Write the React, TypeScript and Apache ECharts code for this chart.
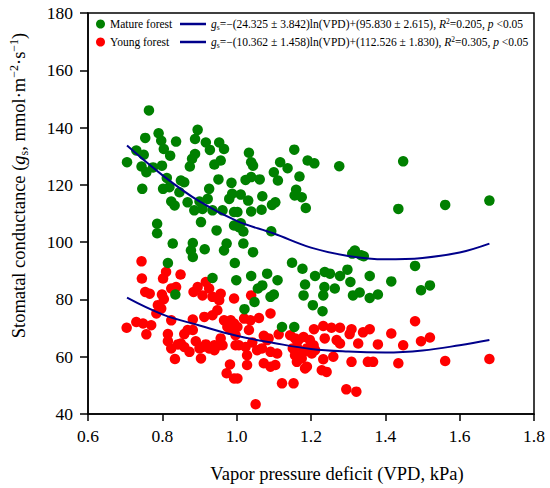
import React, { useEffect, useRef } from "react";
import * as echarts from "echarts";

const matureVPD = [
  0.764, 0.754, 0.790, 0.797, 0.837, 0.895, 0.888, 0.917, 0.953, 0.966, 0.928, 0.804, 0.821, 0.730, 0.750,
  0.705, 0.744, 0.757, 0.775, 0.799, 0.888, 0.880, 0.874, 0.940, 0.957, 0.746, 0.812, 0.802, 0.819, 0.850,
  0.859, 0.846, 0.951, 0.986, 0.926, 0.980, 0.988, 0.868, 0.824, 0.833, 0.886, 0.908, 0.922, 0.935, 0.962,
  0.900, 0.993, 0.904, 0.946, 0.993, 0.786, 0.786, 0.828, 0.882, 0.877, 0.914, 0.973, 0.966, 1.155, 1.033,
  1.039, 1.044, 1.117, 1.137, 1.191, 1.209, 1.276, 1.100, 1.111, 1.169, 1.024, 1.039, 1.062, 1.011, 1.031,
  1.069, 1.095, 1.104, 1.160, 1.156, 1.175, 1.186, 1.039, 1.067, 1.002, 1.011, 1.018, 1.093, 1.018, 1.044,
  1.318, 1.335, 1.448, 1.435, 1.561, 1.680, 1.311, 1.480, 1.149, 1.177, 1.082, 1.039, 1.110, 1.069, 1.057,
  1.211, 1.237, 1.251, 1.278, 1.298, 1.306, 1.358, 1.184, 1.236, 1.264, 1.180, 1.233, 1.100, 1.091, 1.313,
  1.331, 1.358, 1.380, 1.205, 1.231, 1.048, 1.021, 1.122, 1.155, 1.416, 1.496, 1.520, 0.815, 0.995, 0.935,
  0.999, 0.835, 0.882, 1.006, 1.342,
];
const matureGs = [
  146.0, 136.4, 138.0, 135.4, 135.1, 139.2, 136.0, 134.8, 134.8, 132.5, 132.2, 132.5, 130.2, 132.0, 130.5,
  127.9, 126.4, 124.4, 126.1, 126.7, 130.8, 129.1, 126.4, 127.1, 128.5, 118.6, 122.4, 118.6, 119.2, 121.5,
  120.9, 117.4, 121.9, 120.7, 118.6, 115.1, 116.9, 113.9, 114.2, 112.8, 111.1, 111.6, 115.1, 111.1, 111.1,
  114.2, 110.5, 107.0, 104.1, 105.8, 106.4, 103.1, 99.5, 99.7, 97.1, 97.5, 99.5, 97.1, 132.3, 131.2,
  127.9, 126.7, 127.9, 125.8, 128.5, 127.5, 126.5, 124.4, 121.5, 122.9, 121.7, 122.7, 121.9, 116.6, 114.5,
  116.0, 113.0, 113.9, 118.3, 116.3, 115.7, 111.9, 110.7, 111.3, 110.5, 106.6, 103.7, 103.8, 99.5, 96.5,
  97.1, 95.4, 128.2, 111.6, 113.0, 114.5, 96.0, 91.7, 92.8, 90.7, 89.0, 88.2, 86.7, 84.9, 83.8,
  88.2, 89.6, 89.0, 88.2, 90.4, 86.1, 88.2, 85.2, 84.3, 83.8, 81.4, 81.4, 81.7, 80.9, 81.4,
  82.4, 80.5, 81.7, 78.0, 75.9, 79.1, 76.6, 70.4, 70.4, 86.3, 83.2, 84.9, 92.7, 92.7, 87.5,
  86.7, 81.7, 94.8, 105.2, 95.1,
];

const youngVPD = [
  0.744, 0.745, 0.754, 0.766, 0.802, 0.810, 0.849, 0.799, 0.804, 0.824, 0.837, 0.788, 0.797, 0.784, 0.704,
  0.730, 0.748, 0.770, 0.757, 0.824, 0.815, 0.815, 0.824, 0.834, 0.882, 0.859, 0.868, 0.842, 0.859, 0.873,
  0.890, 0.900, 0.904, 0.917, 0.926, 0.940, 0.884, 0.895, 0.908, 0.917, 0.926, 0.935, 0.957, 0.953, 0.948,
  0.913, 0.935, 0.966, 0.984, 0.975, 0.957, 0.953, 0.993, 0.993, 0.997, 0.997, 0.982, 0.973, 0.993, 1.039,
  1.091, 1.020, 1.037, 1.060, 1.002, 1.033, 1.073, 1.086, 1.042, 1.024, 1.055, 1.068, 1.091, 1.109, 1.113,
  1.144, 1.157, 1.180, 1.197, 1.208, 1.233, 1.255, 1.278, 1.237, 1.269, 1.278, 1.309, 1.304, 1.340, 1.358,
  1.380, 1.327, 1.151, 1.162, 1.180, 1.171, 1.162, 1.184, 1.202, 1.211, 1.233, 1.260, 1.229, 1.242, 1.309,
  1.353, 1.367, 1.073, 1.091, 1.104, 1.028, 1.002, 1.122, 1.153, 1.295, 1.322, 1.051, 1.480, 1.416, 1.520,
  1.496, 1.448, 1.435, 1.561, 1.680, 1.207, 1.189, 1.157, 1.175, 0.882, 0.850, 0.908, 0.940, 0.962, 0.984,
  1.006, 1.028, 1.082, 1.166, 1.189,
];
const youngGs = [
  93.3, 87.3, 82.6, 82.0, 87.3, 89.6, 88.7, 81.7, 80.1, 83.8, 84.3, 78.0, 76.8, 75.1, 70.1,
  72.1, 71.6, 71.0, 67.8, 72.7, 67.9, 65.4, 62.9, 59.2, 73.0, 67.9, 69.3, 64.3, 63.4, 61.7,
  65.4, 62.9, 59.4, 64.3, 62.9, 64.0, 82.6, 84.3, 81.4, 86.1, 83.8, 80.9, 82.0, 79.7, 76.2,
  73.9, 74.5, 72.7, 72.7, 70.4, 66.4, 64.0, 80.3, 71.6, 67.5, 64.0, 57.3, 54.2, 52.4, 81.4,
  75.1, 73.3, 72.7, 73.5, 70.4, 69.3, 67.3, 66.4, 65.0, 63.4, 62.3, 62.9, 61.7, 61.1, 67.8,
  67.5, 66.4, 66.9, 65.8, 69.6, 70.7, 70.1, 70.1, 66.4, 65.8, 64.6, 69.6, 67.9, 68.5, 69.6,
  64.3, 64.6, 62.9, 63.4, 61.7, 60.0, 58.2, 55.9, 61.1, 62.3, 59.1, 60.0, 55.3, 54.7, 58.2,
  58.2, 58.2, 57.7, 56.5, 57.1, 57.1, 52.4, 50.7, 50.7, 48.6, 47.8, 43.4, 72.4, 68.1, 66.7,
  65.4, 64.0, 57.7, 58.5, 59.2, 64.0, 62.9, 60.5, 59.4, 69.3, 64.6, 63.4, 62.3, 64.0, 69.3,
  64.0, 60.5, 65.8, 65.8, 56.5,
];

// fitted curves
const fitVPD = [0.705, 0.8, 0.9, 1.0, 1.1, 1.2, 1.3, 1.4, 1.5, 1.6, 1.68];
const matureFitGs = [133.7, 123.4, 114.2, 107.4, 103.0, 98.1, 95.2, 94.0, 94.5, 96.4, 99.5];
const youngFitGs = [80.6, 74.8, 70.9, 67.3, 64.8, 62.7, 61.8, 61.5, 62.2, 64.0, 65.8];

const xTicks = { min: 0.6, max: 1.8, interval: 0.2 };
const yTicks = { min: 40, max: 180, interval: 20 };

const matureFormula =
  "{i|g}{sub|s}{t|=−(24.325 ± 3.842)ln(VPD)+(95.830 ± 2.615), }{i|R}{sup|2}{t|=0.205, }{i|p}{t| <0.05}";
const youngFormula =
  "{i|g}{sub|s}{t|=−(10.362 ± 1.458)ln(VPD)+(112.526 ± 1.830), }{i|R}{sup|2}{t|=0.305, }{i|p}{t| <0.05}";

const FONT = "Liberation Serif";

const zip = (xs: number[], ys: number[]) => xs.map((x, i) => [x, ys[i]]);

export default function App() {
  const ref = useRef<HTMLDivElement>(null);
  useEffect(() => {
    if (!ref.current) return;
    const chart = echarts.init(ref.current, undefined, { renderer: "svg" });
    const legRich = {
      t: { fontSize: 11.5, fontFamily: FONT, color: "#000", lineHeight: 14 },
      i: { fontSize: 11.5, fontFamily: FONT, fontStyle: "italic", color: "#000", lineHeight: 14 },
      sub: { fontSize: 7.5, fontFamily: FONT, color: "#000", lineHeight: 14, verticalAlign: "bottom" },
      sup: { fontSize: 7.5, fontFamily: FONT, color: "#000", lineHeight: 14, verticalAlign: "top" },
    };
    const nameRich = {
      t: { fontSize: 18.5, fontFamily: FONT, color: "#000", lineHeight: 22 },
      i: { fontSize: 18.5, fontFamily: FONT, fontStyle: "italic", color: "#000", lineHeight: 22 },
      sub: { fontSize: 12, fontFamily: FONT, color: "#000", lineHeight: 22, verticalAlign: "bottom" },
      sup: { fontSize: 12, fontFamily: FONT, color: "#000", lineHeight: 22, verticalAlign: "top" },
    };
    chart.setOption({
      animation: false,
      backgroundColor: "#fff",
      textStyle: { fontFamily: FONT },
      grid: {
        left: 84,
        right: 16,
        top: 13,
        bottom: 74,
        show: true,
        borderColor: "#000",
        borderWidth: 1.5,
        backgroundColor: "transparent",
      },
      legend: [
        {
          data: ["Mature forest", "Young forest"],
          orient: "vertical",
          left: 96,
          top: 17,
          itemWidth: 9,
          itemHeight: 9,
          itemGap: 4,
          padding: 0,
          textStyle: { fontSize: 11.5, fontFamily: FONT, color: "#000", lineHeight: 14 },
        },
        {
          data: ["matureFit", "youngFit"],
          orient: "vertical",
          left: 180,
          top: 17,
          icon: "rect",
          itemWidth: 26,
          itemHeight: 2.5,
          itemGap: 4,
          padding: 0,
          formatter: (name: string) => (name === "matureFit" ? matureFormula : youngFormula),
          textStyle: { fontSize: 11.5, fontFamily: FONT, color: "#000", lineHeight: 14, rich: legRich },
        },
      ],
      xAxis: {
        type: "value",
        min: xTicks.min,
        max: xTicks.max,
        interval: xTicks.interval,
        name: "Vapor pressure deficit (VPD, kPa)",
        nameLocation: "middle",
        nameGap: 50,
        nameTextStyle: { fontSize: 18.5, fontFamily: FONT, color: "#000", padding: [0, 0, 0, 52] },
        axisLine: { show: true, onZero: false, lineStyle: { color: "#000", width: 1.5 } },
        axisTick: { show: true, inside: false, length: 7, lineStyle: { color: "#000", width: 1.5 } },
        axisLabel: {
          margin: 13,
          fontSize: 17.5,
          fontFamily: FONT,
          color: "#000",
          formatter: (v: number) => v.toFixed(1),
        },
        splitLine: { show: false },
      },
      yAxis: {
        type: "value",
        min: yTicks.min,
        max: yTicks.max,
        interval: yTicks.interval,
        name: "{t|Stomatal conductance (}{i|g}{sub|s}{t|, mmol·m}{sup|−2}{t|·s}{sup|−1}{t|)}",
        nameLocation: "middle",
        nameRotate: 90,
        nameGap: 58,
        nameTextStyle: { fontSize: 18.5, fontFamily: FONT, color: "#000", rich: nameRich, padding: [0, 0, 0, 56] },
        axisLine: { show: true, onZero: false, lineStyle: { color: "#000", width: 1.5 } },
        axisTick: { show: true, inside: false, length: 8, lineStyle: { color: "#000", width: 1.5 } },
        axisLabel: { margin: 15, fontSize: 17.5, fontFamily: FONT, color: "#000" },
        splitLine: { show: false },
      },
      series: [
        {
          name: "Young forest",
          type: "scatter",
          symbol: "circle",
          symbolSize: 10.5,
          itemStyle: { color: "#ff0000", opacity: 1 },
          data: zip(youngVPD, youngGs),
          z: 2,
        },
        {
          name: "Mature forest",
          type: "scatter",
          symbol: "circle",
          symbolSize: 10.5,
          itemStyle: { color: "#008000", opacity: 1 },
          data: zip(matureVPD, matureGs),
          z: 3,
        },
        {
          name: "matureFit",
          type: "line",
          smooth: 0.4,
          symbol: "none",
          showSymbol: false,
          color: "#00008b",
          lineStyle: { color: "#00008b", width: 2 },
          data: zip(fitVPD, matureFitGs),
          z: 4,
        },
        {
          name: "youngFit",
          type: "line",
          smooth: 0.4,
          symbol: "none",
          showSymbol: false,
          color: "#00008b",
          lineStyle: { color: "#00008b", width: 2 },
          data: zip(fitVPD, youngFitGs),
          z: 4,
        },
      ],
    });
    return () => chart.dispose();
  }, []);
  return (
    <div
      ref={ref}
      style={{ position: "fixed", left: 0, top: 0, width: 550, height: 488, background: "#fff" }}
    />
  );
}
